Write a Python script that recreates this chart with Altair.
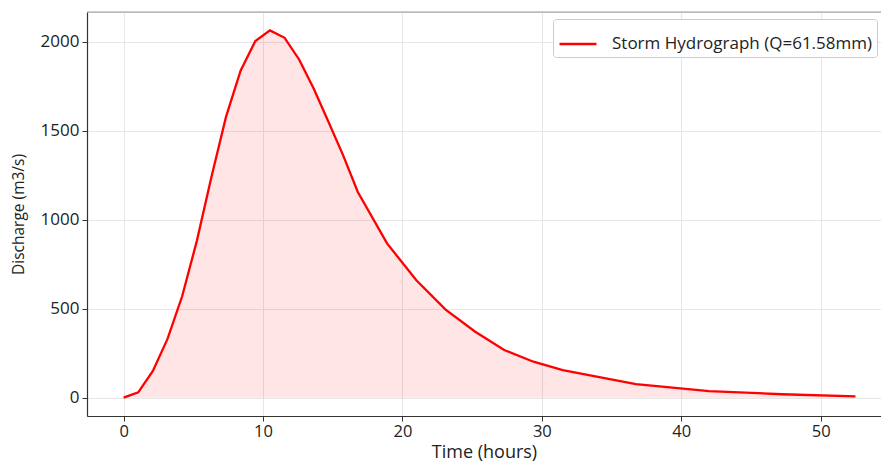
import altair as alt
import pandas as pd

# Values
time_hours = [0, 1.05, 2.1, 3.15, 4.2, 5.25, 6.3, 7.35, 8.4, 9.45, 10.5, 11.55,
              12.6, 13.65, 14.7, 15.75, 16.8, 18.9, 21.0, 23.1, 25.2, 27.3,
              29.4, 31.5, 36.75, 42.0, 47.25, 52.5]
discharge = [0, 30, 150, 330, 570, 880, 1240, 1580, 1840, 2005, 2065, 2023,
             1900, 1735, 1550, 1362, 1156, 867, 660, 495, 372, 268,
             202, 155, 76, 37, 19, 7]
series_name = "Storm Hydrograph (Q=61.58mm)"
x_ticks = [0, 10, 20, 30, 40, 50]
y_ticks = [0, 500, 1000, 1500, 2000]

df = pd.DataFrame({"t": time_hours, "q": discharge, "s": series_name})

FONT = "Open Sans"

xs = alt.Scale(domain=[-2.625, 54.33], nice=False, zero=False)
ys = alt.Scale(domain=[-103.25, 2168.25], nice=False, zero=False)

x_enc = alt.X("t:Q", scale=xs, axis=alt.Axis(
    values=x_ticks, format="d", title="Time (hours)", grid=True, gridColor="#e6e6e6",
    domainColor="#333333", domainWidth=1.2, tickColor="#333333", tickSize=5,
    labelFontSize=16.5, labelFont=FONT, labelColor="#222222", labelPadding=2,
    titleFontSize=18, titleFont=FONT, titleFontWeight="normal",
    titleColor="#222222", titleBaseline="bottom", titleY=45))
y_enc = alt.Y("q:Q", scale=ys, axis=alt.Axis(
    values=y_ticks, format="d", title="Discharge (m3/s)", grid=True, gridColor="#e6e6e6",
    domainColor="#333333", domainWidth=1.2, tickColor="#333333", tickSize=5,
    labelFontSize=17, labelFont=FONT, labelColor="#222222", labelPadding=3,
    titleFontSize=15.5, titleFont=FONT, titleFontWeight="normal",
    titleColor="#222222", titlePadding=14))

area = alt.Chart(df).mark_area(color="red", opacity=0.1, clip=True).encode(
    x=x_enc, y=y_enc, y2=alt.datum(0))

line = alt.Chart(df).mark_line(strokeWidth=2.3, clip=True).encode(
    x=alt.X("t:Q", scale=xs),
    y=alt.Y("q:Q", scale=ys),
    color=alt.Color("s:N", scale=alt.Scale(domain=[series_name], range=["red"]),
                    legend=alt.Legend(
                        title=None, orient="none", legendX=466, legendY=7,
                        fillColor="white", strokeColor="#cccccc", cornerRadius=3,
                        padding=5, symbolType="stroke", symbolSize=1369,
                        symbolStrokeWidth=2.3, labelOffset=14, labelFontSize=17,
                        labelLimit=0, labelFont=FONT, labelColor="#222222")))

top_line = alt.Chart(pd.DataFrame({"a": [0]})).mark_rule(
    color="#999999", strokeWidth=1.2).encode(y=alt.value(0))

chart = alt.layer(area, line, top_line).properties(
    width=794, height=404,
    autosize=alt.AutoSizeParams(type="none"),
    padding={"left": 87, "top": 12, "right": 0, "bottom": 45},
).configure_view(stroke=None).configure(background="white")

chart.save("out.html", embed_options={"renderer": "svg", "actions": False})
